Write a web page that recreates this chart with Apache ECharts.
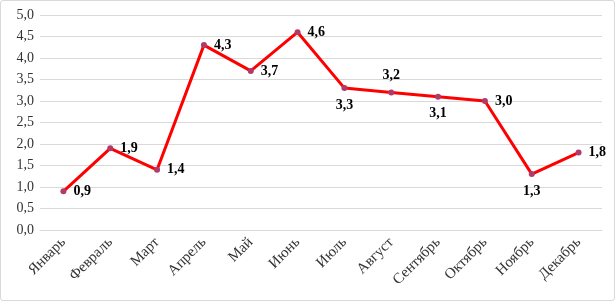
<!DOCTYPE html>
<html><head><meta charset="utf-8">
<script src="https://cdn.jsdelivr.net/npm/echarts@6/dist/echarts.min.js"></script>
<style>html,body{margin:0;padding:0;background:#fff}#c{position:absolute;left:0;top:0;width:613px;height:299px;border:1px solid #d9d9d9;border-radius:3px}</style>
</head><body><div id="c"></div>
<script>
const months = ['Январь','Февраль','Март','Апрель','Май','Июнь','Июль','Август','Сентябрь','Октябрь','Ноябрь','Декабрь'];
const values = [0.9,1.9,1.4,4.3,3.7,4.6,3.3,3.2,3.1,3.0,1.3,1.8];
const labelPos = ['right','right','right','right','right','right','bottom','top','bottom','right','bottom','right'];
const yTicks = {min:0, max:5, interval:0.5};

const fmt = v => v.toFixed(1).replace('.', ',');
const chart = echarts.init(document.getElementById('c'));
chart.setOption({
  animation:false,
  grid:{left:39,right:12,top:14,bottom:70,containLabel:false},
  xAxis:{type:'category',data:months,boundaryGap:true,
    axisLine:{lineStyle:{color:'#d9d9d9',width:1}},axisTick:{show:false},
    axisLabel:{rotate:45,interval:0,margin:10,color:'#333',fontFamily:'Liberation Serif',fontSize:15}},
  yAxis:{type:'value',min:yTicks.min,max:yTicks.max,interval:yTicks.interval,
    axisLine:{show:false},axisTick:{show:false},
    splitLine:{lineStyle:{color:'#d9d9d9',width:1}},
    axisLabel:{formatter:fmt,color:'#333',fontFamily:'Liberation Serif',fontSize:14,margin:6}},
  series:[{type:'line',data:values.map((v,i)=>({value:v,label:{position:labelPos[i]}})),
    lineStyle:{color:'#ff0000',width:3},
    symbol:'circle',symbolSize:6,itemStyle:{color:'#b03a6a'},
    label:{show:true,formatter:p=>fmt(p.value),fontFamily:'Liberation Serif',fontWeight:'bold',fontSize:14,color:'#000',distance:7}}]
});
</script></body></html>
